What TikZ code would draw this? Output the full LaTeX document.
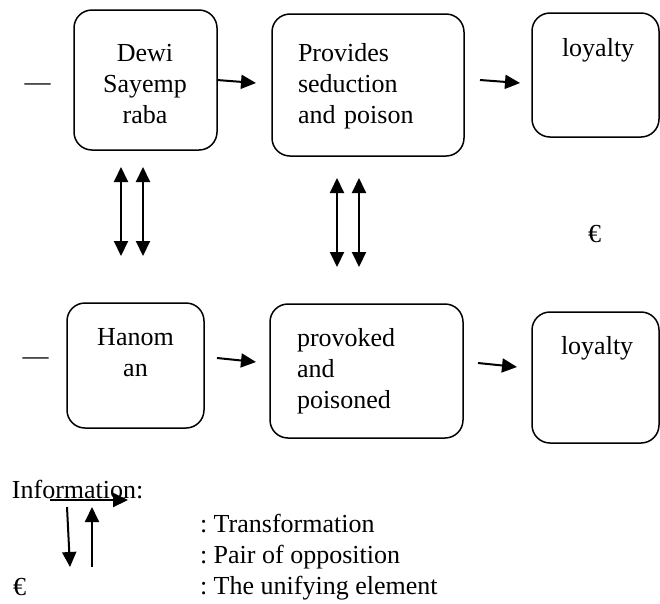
\documentclass[tikz,border=0pt]{standalone}
\usepackage{fontspec}
\setmainfont{Liberation Serif}
\usetikzlibrary{arrows.meta,calc}
\frenchspacing
\begin{document}
\begin{tikzpicture}[x=1pt,y=-1pt,
  box/.style={draw, line width=1.5pt, rounded corners=18pt, outer sep=0pt, inner sep=0pt},
  txt/.style={inner sep=0pt, outer sep=0pt, font=\fontsize{26}{31}\selectfont},
  conn/.style={line width=2pt, -{Triangle[length=15pt,width=14pt]}},
  dbl/.style={line width=2pt, {Triangle[length=15pt,width=14pt]}-{Triangle[length=15pt,width=14pt]}},
]
\useasboundingbox (0,0) rectangle (660,603);
% boxes
\node[box, minimum width=143pt, minimum height=140pt] (b1) at (145.5,80) {};
\node[box, minimum width=192pt, minimum height=142pt] (b2) at (368,85) {};
\node[box, minimum width=127pt, minimum height=124pt] (b3) at (595.5,75) {};
\node[box, minimum width=137pt, minimum height=125pt] (b4) at (135.5,365.5) {};
\node[box, minimum width=193pt, minimum height=134pt] (b5) at (366.5,371) {};
\node[box, minimum width=127pt, minimum height=131pt] (b6) at (595.5,377.5) {};
% box texts
\node[txt, text width=130pt, align=center, anchor=base] (t1) at (145,61) {Dewi\\Sayemp\\raba};
\node[txt, text width=160pt, align=left, anchor=base west] (t2) at (298,61) {Provides\\seduction\\and poison};
\node[txt, anchor=base west] (t3) at (562,56) {loyalty};
\node[txt, text width=120pt, align=center, anchor=base] (t4) at (135.5,345) {Hanom\\an};
\node[txt, text width=160pt, align=left, anchor=base west] (t5) at (297,346) {provoked\\and\\poisoned};
\node[txt, anchor=base west] (t6) at (561,354) {loyalty};
% dashes and unifying element
\node[txt, anchor=base] (dash1) at (37.5,90.5) {—};
\node[txt, anchor=base] (dash2) at (35.5,364.5) {—};
\node[txt, anchor=base west] (euro1) at (588,242) {€};
% transformation arrows
\draw[conn] (b1.east) -- ($(b2.west)+(-16,-2)$);
\draw[conn] ($(b2.east)+(16,-5)$) -- ($(b3.west)+(-12,8)$);
\draw[conn] ($(b4.east)+(13,-7.5)$) -- ($(b5.west)+(-14,-9)$);
\draw[conn] ($(b5.east)+(15,-8)$) -- ($(b6.west)+(-15,-10.5)$);
% opposition pairs
\coordinate (d1a) at (121,167); \coordinate (d1b) at (121,256);
\coordinate (d2a) at (143,167); \coordinate (d2b) at (143,256);
\coordinate (d3a) at (337,178); \coordinate (d3b) at (337,267);
\coordinate (d4a) at (359,178); \coordinate (d4b) at (359,267);
\draw[dbl] (d1a) -- (d1b);
\draw[dbl] (d2a) -- (d2b);
\draw[dbl] (d3a) -- (d3b);
\draw[dbl] (d4a) -- (d4b);
% legend
\node[txt, anchor=base west] (info) at (12,498) {Information:};
\coordinate (lh1) at (50,500); \coordinate (lh2) at (128,500);
\coordinate (ld1) at (67,507); \coordinate (ld2) at (70,567);
\coordinate (lu1) at (92,567); \coordinate (lu2) at (92,507);
\draw[conn] (lh1) -- (lh2);
\draw[conn] (ld1) -- (ld2);
\draw[conn] (lu1) -- (lu2);
\node[txt, anchor=base west] (euro2) at (13,595) {€};
\node[txt, anchor=base west] (l1) at (200,532) {: Transformation};
\node[txt, anchor=base west] (l2) at (200,563) {: Pair of opposition};
\node[txt, anchor=base west] (l3) at (200,594) {: The unifying element};
\end{tikzpicture}
\end{document}
